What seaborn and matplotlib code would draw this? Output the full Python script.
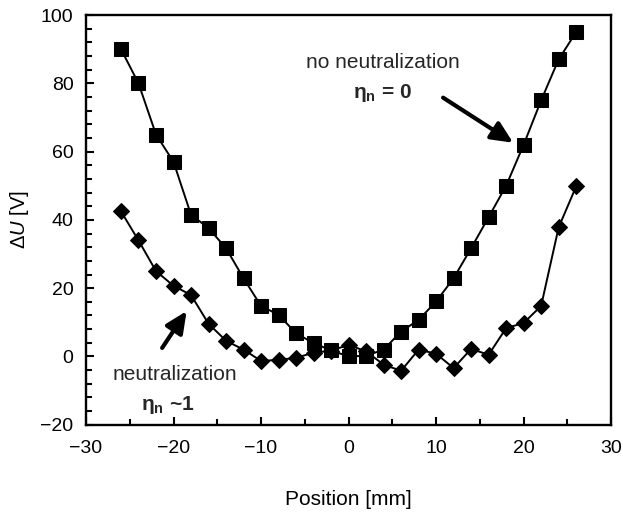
import numpy as np
import pandas as pd
import matplotlib
matplotlib.use("Agg")
import matplotlib.pyplot as plt
import seaborn as sns

position = [-26, -24, -22, -20, -18, -16, -14, -12, -10, -8, -6, -4, -2, 0,
            2, 4, 6, 8, 10, 12, 14, 16, 18, 20, 22, 24, 26]
no_neutralization = [90, 80, 65, 57, 41.5, 37.6, 31.7, 22.9, 14.8, 12.2, 6.8, 3.9, 1.8, 0,
                     0.2, 2, 7.3, 10.7, 16.1, 22.9, 31.7, 40.8, 50, 62, 75, 87, 95]
neutralization = [42.5, 34, 25, 20.7, 18, 9.6, 4.6, 2, -1.3, -1, -0.4, 1.1, 1.7, 3.4,
                  1.5, -2.4, -4.2, 2, 0.8, -3.4, 2.2, 0.5, 8.3, 9.8, 14.8, 37.8, 49.8]
x_ticks = [-30, -20, -10, 0, 10, 20, 30]
x_ticklabels = ["\u221230", "\u221220", "\u221210", "0", "10", "20", "30"]
y_ticks = [-20, 0, 20, 40, 60, 80, 100]
y_ticklabels = ["\u221220", "0", "20", "40", "60", "80", "100"]

sns.set_style("ticks")
plt.rcParams['font.family'] = ['Liberation Sans', 'DejaVu Sans']
plt.rcParams['mathtext.fontset'] = 'custom'
plt.rcParams['mathtext.rm'] = 'Liberation Sans'
plt.rcParams['mathtext.it'] = 'Liberation Sans:italic'
plt.rcParams['mathtext.bf'] = 'Liberation Sans:bold'

df = pd.DataFrame({"pos": position * 2,
                   "dU": no_neutralization + neutralization,
                   "series": ["none"] * len(position) + ["neut"] * len(position)})

fig = plt.figure(figsize=(6.23, 5.18), dpi=100)
ax = fig.add_axes([0.138, 0.180, 0.843, 0.791])

sns.lineplot(data=df[df.series == "none"], x="pos", y="dU", ax=ax, color="black",
             marker="s", markersize=9.5, linewidth=1.4, markeredgecolor="black")
sns.lineplot(data=df[df.series == "neut"], x="pos", y="dU", ax=ax, color="black",
             marker="D", markersize=8, linewidth=1.4, markeredgecolor="black")

ax.set_xlim(-30, 30)
ax.set_ylim(-20, 100)
ax.set_xticks(x_ticks)
ax.set_xticklabels(x_ticklabels)
ax.set_xticks([-25, -15, -5, 5, 15, 25], minor=True)
ax.set_yticks(y_ticks)
ax.set_yticklabels(y_ticklabels)
ax.set_yticks([v for v in range(-16, 100, 4) if v % 20 != 0], minor=True)
ax.tick_params(which="both", direction="in", top=False, right=False, width=1.5,
               labelsize=14, colors="black")
ax.tick_params(which="major", length=6)
ax.tick_params(axis="x", which="major", pad=11)
ax.tick_params(axis="y", which="major", pad=9)
ax.tick_params(which="minor", length=4)
for s in ax.spines.values():
    s.set_linewidth(1.7)
    s.set_color("black")
    s.set_visible(True)

ax.set_xlabel("Position [mm]", fontsize=15, labelpad=24, color="black")
ax.set_ylabel(r"$\Delta \mathit{U}$ [V]", fontsize=14.5, labelpad=7, color="black")

arrow_style = dict(arrowstyle="-|>,head_length=1.3,head_width=0.6",
                   color="black", lw=3, shrinkA=0, shrinkB=0)

ax.text(3.9, 86.2, "no neutralization", fontsize=15, ha="center", va="center")
ax.text(3.9, 77.2, "\u03b7$_\\mathbf{n}$ = 0", fontsize=15, ha="center", va="center",
        fontweight="bold")
ax.annotate("", xy=(18.8, 62.6), xytext=(10.8, 75.8), arrowprops=arrow_style)

ax.text(-19.8, -5.4, "neutralization", fontsize=15, ha="center", va="center")
ax.text(-20.6, -14.1, "\u03b7$_\\mathbf{n}$ ~1", fontsize=15, ha="center", va="center",
        fontweight="bold")
ax.annotate("", xy=(-18.5, 13.3), xytext=(-21.3, 2.5), arrowprops=arrow_style)

fig.savefig("out.png", dpi=100)
